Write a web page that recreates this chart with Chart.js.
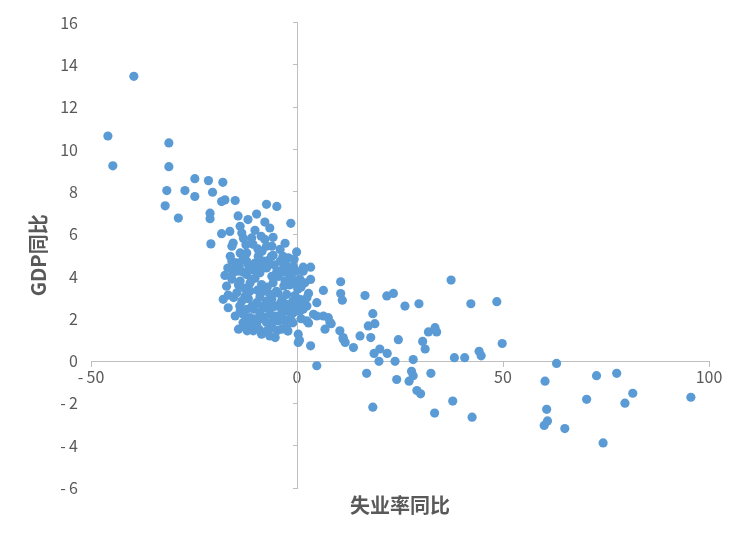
<!DOCTYPE html>
<html>
<head>
<meta charset="utf-8">
<script src="https://cdn.jsdelivr.net/npm/chart.js@4.4.1/dist/chart.umd.min.js"></script>
<style>
  html, body { margin: 0; padding: 0; background: #fff; }
  #chart { display: block; }
</style>
</head>
<body>
<canvas id="chart" width="744" height="544"></canvas>
<script>
// 失业率同比 (x) / GDP同比 (y)
const unemploymentYoY = [
  -39.6, -45.9, -44.7, -31.1, -31.1, -31.6, -32.0, -27.2, -24.8, -24.8,
  -21.5, -20.5, -18.0, -28.8, -21.1, -21.1, -20.9, -18.3, -17.5, -15.0,
  -7.4, -4.9, -1.5, -18.3, -14.3, -11.9, -9.8, -7.8, -16.3, -13.8,
  -13.4, -10.2, -6.6, -5.8, -11.0, -7.8, -15.5, -15.8, -10.7, -7.4,
  -4.1, -0.1, -13.8, -12.2, -9.4, -5.8, -2.1, -14.6, -12.2, -8.2,
  -4.1, -0.9, 1.5, -15.0, -11.4, -7.4, -3.3, -17.5, -15.5, -12.2,
  -9.0, -4.9, -1.7, 1.5, -17.1, -14.6, -11.4, -8.6, -5.8, -2.5,
  0.7, 2.4, -17.9, -16.7, -13.4, -12.2, -9.8, -7.4, -4.9, -2.5,
  -11.4, -9.0, -6.6, -3.7, -1.3, -12.2, -9.8, -7.4, -4.5, -1.7,
  -14.2, -10.6, -8.6, -6.1, -3.7, -5.3, 0.3, 0.3,
  3.3, 1.9, 3.3, 6.4, 10.6, 10.6, 11.0, 16.5, 1.5, 2.4,
  4.8, -0.9, 1.5, 4.0, 6.4, 8.0, 2.4, 6.8, 10.4, 11.2,
  13.7, 15.3, 0.6, 3.3, 21.8, 23.4, 26.2, 29.6, 37.4, 42.2,
  48.5, 4.8, 7.6, 8.3, 11.2, 11.7, 18.4, 18.9, 17.3, 17.9,
  24.6, 30.5, 31.1, 31.9, 33.5, 33.9, 18.7, 20.1, 21.9, 19.9,
  23.8, 28.2, 38.2, 40.7, 44.2, 44.7, 49.8, 4.8, 16.9, 24.2,
  27.2, 27.8, 28.2, 32.5, 29.1, 30.0, 18.4, 33.4, 37.8, 42.5,
  63.0, 60.2, 72.7, 77.6, 70.3, 81.5, 79.6, 95.6, 60.6, 60.8,
  60.0, 65.0, 74.3,
  -13.1, -10.2, -6.6, -2.9, -9.5, -6.1, -2.9, -0.5, -13.8, -11.4,
  -7.8, -4.6, -12.6, -9.0, -6.1, -3.6, -1.0, -13.8, -7.8, -5.3,
  -2.9, -9.0, -13.1, -6.6, -2.2, -1.0, -15.8, -14.3, -10.2, 0.2,
  0.7, -0.7, -3.4, -8.5, -6.1, -2.9, -10.9, -15.8, -16.7, -15.0,
  -12.1, -1.7, 0.7, -0.2,
  -14.0, -13.0, -11.8, -10.5, -9.8, -8.6, -7.0, -5.5, -4.5, -3.0,
  -2.0, -1.2, -14.2, -12.8, -11.0, -9.6, -7.2, -6.5, -5.0, -3.2,
  -1.8, -0.5, -15.4, -13.9, -11.8, -10.5, -8.4, -6.0, -4.0, -3.0,
  -2.0, -0.3, -13.0, -10.2, -8.0, -5.8, -3.3, -12.8, -11.2, -9.2,
  -7.5, -4.8, -2.5, -9.5, -12.4, -8.7, -6.2, -13.0, -16.2, -16.8,
  1.0, 2.8, 1.0, 2.8
];
const gdpYoY = [
  13.46, 10.64, 9.23, 10.31, 9.19, 8.06, 7.34, 8.06, 7.78, 8.62,
  8.53, 7.98, 8.45, 6.76, 6.99, 6.73, 5.54, 7.54, 7.62, 7.59,
  7.41, 7.31, 6.51, 6.02, 6.86, 6.69, 6.95, 6.57, 6.13, 6.37,
  6.05, 6.18, 6.29, 5.85, 5.82, 5.75, 5.58, 5.43, 5.52, 5.43,
  5.28, 5.16, 5.11, 5.11, 4.95, 5.00, 4.88, 4.64, 4.72, 4.72,
  4.72, 4.48, 4.44, 4.38, 4.40, 4.40, 4.40, 4.05, 4.17, 4.09,
  4.17, 4.25, 4.09, 4.25, 3.54, 3.23, 3.31, 3.62, 3.70, 3.15,
  2.92, 2.60, 2.92, 2.52, 2.84, 2.45, 2.76, 2.84, 2.60, 2.68,
  2.05, 2.29, 2.21, 2.29, 2.21, 1.98, 1.74, 1.82, 1.90, 1.98,
  1.51, 1.43, 1.27, 1.58, 1.51, 1.11, 1.27, 0.88,
  4.44, 3.70, 3.86, 3.34, 3.75, 3.19, 2.88, 3.10, 2.76, 2.99,
  2.76, 2.29, 2.45, 2.21, 2.13, 1.82, 1.90, 1.51, 1.43, 1.04,
  0.64, 1.19, 0.99, 0.72, 3.08, 3.20, 2.60, 2.71, 3.83, 2.71,
  2.81, 2.13, 2.05, 1.77, 1.11, 0.88, 2.24, 1.77, 1.66, 1.11,
  1.01, 0.93, 0.57, 1.38, 1.58, 1.38, 0.36, 0.57, 0.36, -0.01,
  -0.01, 0.07, 0.16, 0.16, 0.46, 0.25, 0.83, -0.22, -0.58, -0.87,
  -0.95, -0.48, -0.69, -0.58, -1.39, -1.55, -2.18, -2.46, -1.89, -2.65,
  -0.11, -0.95, -0.69, -0.58, -1.81, -1.52, -1.99, -1.71, -2.28, -2.83,
  -3.04, -3.19, -3.87,
  4.81, 4.63, 4.58, 4.63, 4.34, 4.01, 3.78, 3.64, 3.78, 3.69,
  3.31, 3.22, 3.07, 3.03, 2.93, 2.93, 2.84, 2.37, 2.51, 2.13,
  1.90, 1.99, 1.81, 1.19, 1.42, 1.81, 3.87, 4.25, 3.92, 3.40,
  3.87, 4.81, 4.95, 5.19, 5.43, 5.57, 2.60, 4.72, 3.12, 2.13,
  1.43, 2.60, 2.37, 4.25,
  4.50, 4.20, 4.55, 4.30, 4.60, 4.45, 4.75, 4.55, 4.00, 4.20,
  4.45, 3.90, 3.60, 3.45, 3.85, 3.35, 3.50, 3.15, 3.30, 3.55,
  3.60, 3.10, 3.00, 2.60, 2.95, 2.45, 2.60, 2.55, 2.75, 2.45,
  2.35, 2.60, 2.20, 2.00, 2.05, 1.85, 2.00, 1.65, 1.70, 1.50,
  1.40, 1.45, 1.55, 5.30, 5.50, 5.90, 4.95, 5.80, 4.95, 4.40,
  3.50, 3.20, 2.00, 1.80
];
const xTicks = [-50, 0, 50, 100];
const yTicks = [-6, -4, -2, 0, 2, 4, 6, 8, 10, 12, 14, 16];
const xTitle = '失业率同比';
const yTitle = 'GDP同比';

const points = unemploymentYoY.map((x, i) => ({ x: x, y: gdpYoY[i] }));

const axisGray = '#bfbfbf';
const textGray = '#595959';
const fontFamily = '"Noto Sans CJK SC", "Noto Sans", sans-serif';

function fmt(v) {
  return v < 0 ? '-\u2009' + Math.abs(v) : String(v);
}
function setTicks(list) {
  return function (scale) {
    scale.ticks = list.map(v => ({ value: v }));
  };
}

new Chart(document.getElementById('chart'), {
  type: 'scatter',
  data: {
    datasets: [{
      data: points,
      backgroundColor: '#5b9bd5',
      borderWidth: 0,
      pointRadius: 4.6,
      pointHoverRadius: 4.6
    }]
  },
  options: {
    responsive: false,
    animation: false,
    layout: { padding: { left: 0, right: 35, top: 18, bottom: 0 } },
    plugins: {
      legend: { display: false },
      tooltip: { enabled: false },
      title: {
        display: true,
        position: 'bottom',
        fullSize: false,
        text: xTitle,
        color: textGray,
        font: { family: fontFamily, size: 20, weight: 'bold' },
        padding: { top: 5, bottom: 27 }
      }
    },
    scales: {
      x: {
        type: 'linear',
        position: { y: 0 },
        min: xTicks[0],
        max: xTicks[xTicks.length - 1],
        afterBuildTicks: setTicks(xTicks),
        border: { display: true, color: axisGray, width: 1 },
        grid: { drawOnChartArea: false, drawTicks: true, tickLength: 5, color: axisGray },
        ticks: {
          color: textGray,
          font: { family: fontFamily, size: 16 },
          padding: 1,
          maxRotation: 0,
          callback: v => fmt(v)
        }
      },
      y: {
        type: 'linear',
        position: 'left',
        min: yTicks[0],
        max: yTicks[yTicks.length - 1],
        afterBuildTicks: setTicks(yTicks),
        afterFit: function (scale) { scale.width = 91; },
        border: { display: false },
        grid: { display: false, drawTicks: false },
        ticks: {
          color: textGray,
          font: { family: fontFamily, size: 16 },
          padding: 13,
          callback: v => fmt(v)
        },
        title: {
          display: true,
          text: yTitle,
          color: textGray,
          font: { family: fontFamily, size: 20, weight: 'bold' },
          padding: { top: 26, bottom: 0 }
        }
      },
      yZero: {
        type: 'linear',
        axis: 'y',
        position: { x: 0 },
        min: yTicks[0],
        max: yTicks[yTicks.length - 1],
        afterBuildTicks: setTicks(yTicks),
        border: { display: true, color: axisGray, width: 1 },
        grid: { drawOnChartArea: false, drawTicks: true, tickLength: 4, color: axisGray },
        ticks: { display: false }
      }
    }
  }
});
</script>
</body>
</html>
